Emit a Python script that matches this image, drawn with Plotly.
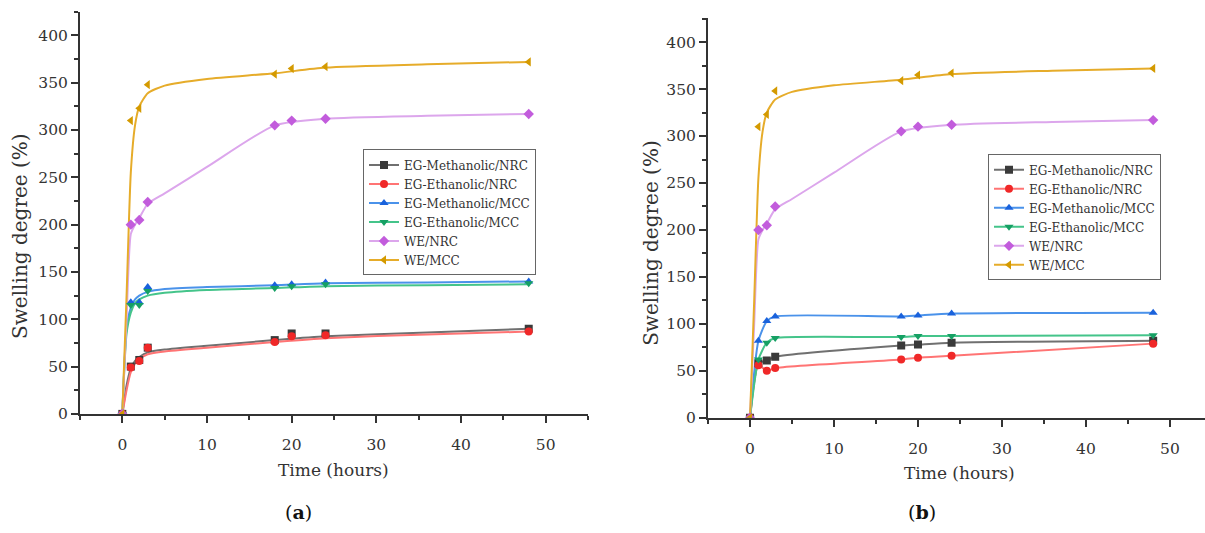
import plotly.graph_objects as go

# ---------------- data ----------------
TIME = [0, 1, 2, 3, 18, 20, 24, 48]
SERIES = ["EG-Methanolic/NRC", "EG-Ethanolic/NRC", "EG-Methanolic/MCC",
          "EG-Ethanolic/MCC", "WE/NRC", "WE/MCC"]

# panel (a) measured points
A_MET_NRC = [0, 50, 57, 70, 78, 85, 85, 90]
A_ETH_NRC = [0, 49, 56, 70, 76, 82, 83, 87]
A_MET_MCC = [0, 118, 118, 134, 136, 137, 139, 140]
A_ETH_MCC = [0, 115, 115, 130, 133, 135, 137, 138]
A_WE_NRC = [0, 200, 205, 224, 305, 310, 312, 317]
A_WE_MCC = [0, 310, 323, 348, 359, 365, 367, 372]

# fitted curves
CURVE_T = [0, 0.5, 1, 1.5, 2, 3, 5, 10, 18, 24, 36, 48]
A_MET_NRC_FIT = [0, 30, 48, 56, 60, 65, 68, 72, 78, 82, 86, 90]
A_ETH_NRC_FIT = [0, 25, 44, 53, 58, 63, 66, 70, 76, 80, 84, 87]
A_MET_MCC_FIT = [0, 90, 112, 121, 125, 129, 132, 134, 136, 138, 139, 140]
A_ETH_MCC_FIT = [0, 85, 107, 117, 121, 125, 128, 131, 133, 135, 136, 137]
WE_NRC_FIT = [0, 100, 190, 200, 207, 222, 233, 261, 305, 312, 315, 317]
WE_MCC_FIT = [0, 125, 255, 305, 325, 339, 347, 354, 360, 366, 369.5, 372]

# panel (b) measured points
B_MET_NRC = [0, 58, 61, 65, 77, 78, 80, 82]
B_ETH_NRC = [0, 56, 50, 53, 62, 64, 66, 79]
B_MET_MCC = [0, 82, 103, 108, 108, 109, 111, 112]
B_ETH_MCC = [0, 62, 80, 85, 86, 87, 87, 88]
B_WE_NRC = [0, 200, 205, 225, 305, 310, 312, 317]
B_WE_MCC = [0, 310, 323, 348, 359, 365, 367, 372]

X_TICKS = [0, 10, 20, 30, 40, 50]
Y_TICKS = [0, 50, 100, 150, 200, 250, 300, 350, 400]

# ---------------- style ----------------
MARK_COL = ["#3a3a3a", "#f02828", "#1a62dc", "#16a064", "#c25cdc", "#d49a00"]
LINE_COL = ["#707070", "#ff7474", "#4a92ea", "#44c48a", "#dca6ec", "#e6ac2a"]
SYMBOLS = ["square", "circle", "triangle-up", "triangle-down", "diamond", "triangle-left"]
FONT = "DejaVu Serif"
AX = "#333333"

fig = go.Figure()

a_pts = [A_MET_NRC, A_ETH_NRC, A_MET_MCC, A_ETH_MCC, A_WE_NRC, A_WE_MCC]
a_fit = [A_MET_NRC_FIT, A_ETH_NRC_FIT, A_MET_MCC_FIT, A_ETH_MCC_FIT, WE_NRC_FIT, WE_MCC_FIT]
b_pts = [B_MET_NRC, B_ETH_NRC, B_MET_MCC, B_ETH_MCC, B_WE_NRC, B_WE_MCC]

# panel a
for i, name in enumerate(SERIES):
    fig.add_trace(go.Scatter(x=CURVE_T, y=a_fit[i], mode="lines", xaxis="x", yaxis="y",
                             line=dict(color=LINE_COL[i], width=2, shape="spline", smoothing=0.6),
                             showlegend=False, hoverinfo="skip"))
for i, name in enumerate(SERIES):
    fig.add_trace(go.Scatter(x=TIME, y=a_pts[i], mode="markers", xaxis="x", yaxis="y",
                             marker=dict(color=MARK_COL[i], symbol=SYMBOLS[i], size=8),
                             showlegend=False, name=name))
for i, name in enumerate(SERIES):
    fig.add_trace(go.Scatter(x=[None], y=[None], mode="lines+markers", xaxis="x", yaxis="y",
                             line=dict(color=LINE_COL[i], width=2),
                             marker=dict(color=MARK_COL[i], symbol=SYMBOLS[i], size=8),
                             name=name, legend="legend"))

# panel b
for i, name in enumerate(SERIES):
    if i < 4:
        fig.add_trace(go.Scatter(x=TIME, y=b_pts[i], mode="lines", xaxis="x2", yaxis="y2",
                                 line=dict(color=LINE_COL[i], width=2, shape="spline", smoothing=0.6),
                                 showlegend=False, hoverinfo="skip"))
    else:
        fig.add_trace(go.Scatter(x=CURVE_T, y=a_fit[i], mode="lines", xaxis="x2", yaxis="y2",
                                 line=dict(color=LINE_COL[i], width=2, shape="spline", smoothing=0.6),
                                 showlegend=False, hoverinfo="skip"))
for i, name in enumerate(SERIES):
    fig.add_trace(go.Scatter(x=TIME, y=b_pts[i], mode="markers", xaxis="x2", yaxis="y2",
                             marker=dict(color=MARK_COL[i], symbol=SYMBOLS[i], size=8),
                             showlegend=False, name=name))
for i, name in enumerate(SERIES):
    fig.add_trace(go.Scatter(x=[None], y=[None], mode="lines+markers", xaxis="x2", yaxis="y2",
                             line=dict(color=LINE_COL[i], width=2),
                             marker=dict(color=MARK_COL[i], symbol=SYMBOLS[i], size=8),
                             name=name, legend="legend2"))

W, H = 1205, 533


def xaxis(domain, rng, anchor):
    return dict(domain=domain, range=rng, anchor=anchor, tickvals=X_TICKS,
                showline=True, linewidth=2, linecolor=AX, ticks="outside", ticklen=7,
                tickwidth=2, tickcolor=AX, showgrid=False, zeroline=False,
                ticklabelstandoff=9,
                tickfont=dict(family=FONT, size=15.5, color=AX),
                minor=dict(ticks="outside", ticklen=4, tickwidth=2, tickcolor=AX, dtick=5, tick0=0))


def yaxis(domain, rng, anchor):
    return dict(domain=domain, range=rng, anchor=anchor, tickvals=Y_TICKS,
                showline=True, linewidth=2, linecolor=AX, ticks="outside", ticklen=7,
                tickwidth=2, tickcolor=AX, showgrid=False, zeroline=False,
                tickfont=dict(family=FONT, size=15.5, color=AX),
                minor=dict(ticks="outside", ticklen=4, tickwidth=2, tickcolor=AX, dtick=25, tick0=0))


legend_style = dict(font=dict(family=FONT, size=12, color=AX), bgcolor="white",
                    bordercolor="#666666", borderwidth=1, xanchor="left", yanchor="top",
                    tracegroupgap=0, itemwidth=30)

ann_common = dict(xref="paper", yref="paper", showarrow=False, xanchor="center", yanchor="middle")

fig.update_layout(
    width=W, height=H, margin=dict(l=0, r=0, t=0, b=0),
    paper_bgcolor="white", plot_bgcolor="white",
    xaxis=xaxis([80 / W, 588 / W], [-5, 55], "y"),
    yaxis=yaxis([1 - 421 / H, 1 - 12 / H], [0, 425], "x"),
    xaxis2=xaxis([708 / W, 1.0], [-5, 54.17], "y2"),
    yaxis2=yaxis([1 - 425 / H, 1 - 18 / H], [0, 426], "x2"),
    legend=dict(x=363 / W, y=1 - 152 / H, **legend_style),
    legend2=dict(x=988 / W, y=1 - 157 / H, **legend_style),
    annotations=[
        dict(text="Swelling degree (%)", x=20 / W, y=1 - 240 / H, textangle=-90,
             font=dict(family=FONT, size=20, color=AX), **ann_common),
        dict(text="Swelling degree (%)", x=651 / W, y=1 - 247 / H, textangle=-90,
             font=dict(family=FONT, size=20, color=AX), **ann_common),
        dict(text="Time (hours)", x=333 / W, y=1 - 478 / H,
             font=dict(family=FONT, size=17, color=AX), **ann_common),
        dict(text="Time (hours)", x=960 / W, y=1 - 481 / H,
             font=dict(family=FONT, size=17, color=AX), **ann_common),
        dict(text="(<b>a</b>)", x=298 / W, y=1 - 521 / H,
             font=dict(family=FONT, size=19, color="#111"), **ann_common),
        dict(text="(<b>b</b>)", x=922 / W, y=1 - 521 / H,
             font=dict(family=FONT, size=19, color="#111"), **ann_common),
    ],
)

fig.write_html("out.html")
